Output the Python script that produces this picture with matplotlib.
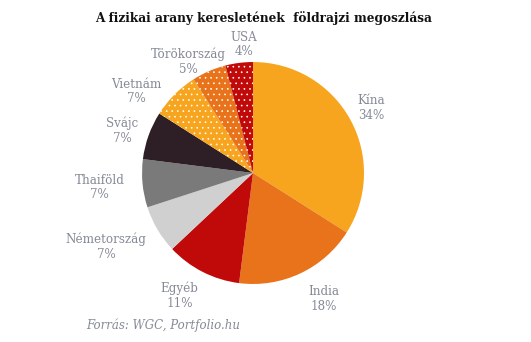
import matplotlib
matplotlib.use("Agg")
import matplotlib.pyplot as plt
import numpy as np

# Physical gold demand by country (share, %)
countries = ["Kína", "India", "Egyéb", "Németország", "Thaiföld", "Svájc",
             "Vietnám", "Törökország", "USA"]
shares = [34, 18, 11, 7, 7, 7, 7, 5, 4]

colors = ["#F7A51E", "#E8731A", "#C00A0A", "#D0D0D0", "#7A7A7A", "#2E1F26",
          "#F7A51E", "#E8731A", "#C00A0A"]
dotted = [False, False, False, False, False, False, True, True, True]

# label radius (in pie radii) and angular nudge (deg) for each slice label
label_radius = [1.22, 1.30, 1.29, 1.48, 1.39, 1.24, 1.28, 1.16, 1.16]
label_nudge = [0, 4, -4, -4, 0, 2, 10, 7, -3]

label_color = "#858A96"
serif = ["DejaVu Serif"]
plt.rcParams["hatch.linewidth"] = 0.45

fig = plt.figure(figsize=(5.31, 3.42), dpi=100)
ax = fig.add_axes([0.2675, 0.1696, 0.418, 0.6491])

wedges, _ = ax.pie(shares, colors=colors, startangle=90, counterclock=False,
                   wedgeprops=dict(linewidth=0))
for w, d in zip(wedges, dotted):
    if d:
        w.set_hatch("...")
        w.set_edgecolor("white")
        w.set_linewidth(0)

total = sum(shares)
cum = 0
for name, val, r, nudge in zip(countries, shares, label_radius, label_nudge):
    mid = 90 - 360 * (cum + val / 2) / total + nudge
    cum += val
    x = r * np.cos(np.radians(mid))
    y = r * np.sin(np.radians(mid))
    ax.text(x, y, f"{name}\n{val}%", ha="center", va="center",
            color=label_color, fontsize=8.6, family=serif, linespacing=1.15)

ax.set_xlim(-1, 1)
ax.set_ylim(-1, 1)
ax.set_aspect("equal")

fig.text(0.496, 0.947, "A fizikai arany keresletének  földrajzi megoszlása",
         ha="center", va="center", fontsize=8.7, fontweight="bold",
         family=serif, color="#111111")
fig.text(0.162, 0.048, "Forrás: WGC, Portfolio.hu", ha="left", va="center",
         fontsize=8.5, style="italic", family=serif, color="#858A96")

fig.savefig("out.png", dpi=100)
